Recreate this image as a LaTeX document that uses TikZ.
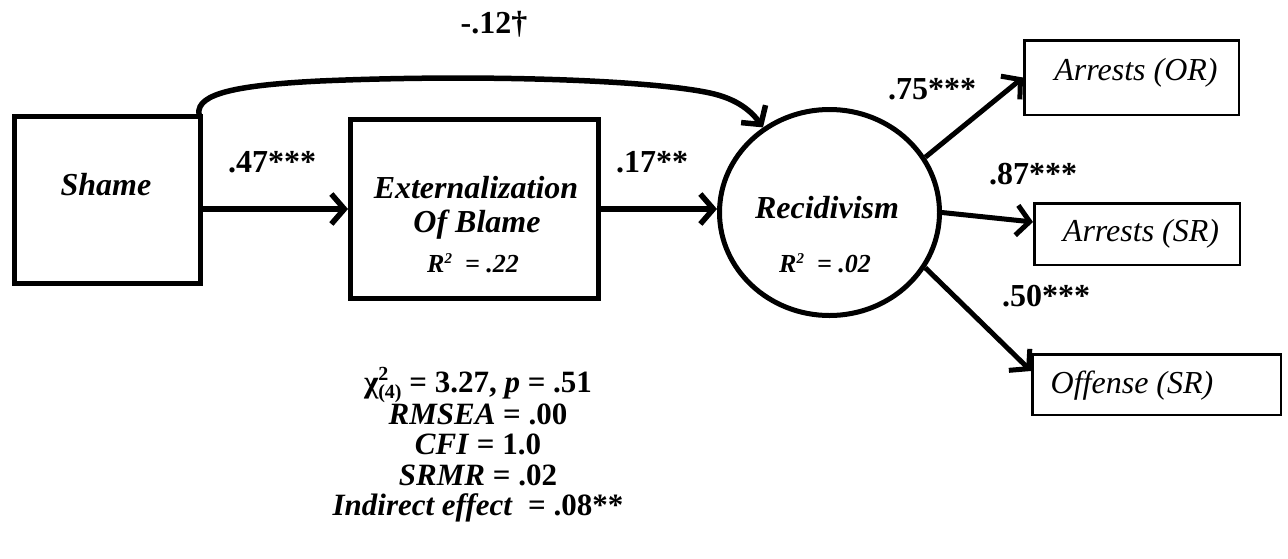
\documentclass[tikz,border=0pt]{standalone}
\usepackage{fontspec}
\setmainfont{Liberation Serif}
\usetikzlibrary{arrows.meta,shapes.geometric}
\tikzset{
  bigbox/.style={draw, line width=5pt, rectangle, inner sep=0pt},
  obsbox/.style={draw, line width=2.5pt, rectangle, inner sep=0pt},
  latent/.style={draw, line width=5pt, ellipse, inner sep=0pt},
  arr/.style={line width=5.5pt, -{Straight Barb[length=13pt,width=30pt]}},
  arrthin/.style={line width=5pt, -{Straight Barb[length=13pt,width=30pt]}},
  nametxt/.style={font=\fontsize{32}{34}\selectfont\bfseries\itshape, inner sep=0pt},
  rtxt/.style={font=\fontsize{26}{28}\selectfont\bfseries\itshape, inner sep=0pt},
  coef/.style={font=\fontsize{32}{34}\selectfont\bfseries, inner sep=0pt},
  obstxt/.style={font=\fontsize{32}{34}\selectfont\itshape, inner sep=0pt},
}
\newcommand{\Rsq}{R\raisebox{0.8ex}{\fontsize{15}{15}\selectfont 2}\ \ = }
\begin{document}
\begin{tikzpicture}[x=1pt,y=-1pt]
\useasboundingbox (0,0) rectangle (1288,558);

% main nodes
\node[bigbox, minimum width=186pt, minimum height=167pt] (shame) at (107.5,200) {};
\node[nametxt] (shamet) at (106,185) {Shame};

\node[bigbox, minimum width=248pt, minimum height=179pt] (ext) at (474.5,209) {};
\node[nametxt] (extt1) at (476,188) {Externalization};
\node[nametxt] (extt2) at (477,225) {Of Blame};
\node[rtxt] (extt3) at (473,263) {\Rsq.22};

\node[latent, minimum width=220pt, minimum height=206pt] (recid) at (829.5,212.5) {};
\node[nametxt] (recidt) at (827,208) {Recidivism};
\node[rtxt] (recidr) at (825,263) {\Rsq.02};

% observed indicators
\node[obsbox, minimum width=214.5pt, minimum height=74.5pt] (aor) at (1131.5,77.5) {};
\node[obstxt] (aort) at (1136,73) {Arrests (OR)};
\node[obsbox, minimum width=205.5pt, minimum height=61.5pt] (asr) at (1137,234) {};
\node[obstxt] (asrt) at (1141,234) {Arrests (SR)};
\node[obsbox, minimum width=248.5pt, minimum height=60.5pt] (osr) at (1156.5,384.5) {};
\node[obstxt] (osrt) at (1132,386) {Offense (SR)};

% connectors
\draw[arr] (shame.east |- ext.west) -- (ext.west);
\draw[arr] (ext.east) -- (ext.east -| recid.west);
\draw[arr] ([xshift=-4pt]shame.north east) .. controls (196,93) and (240,85) .. (320,81)
   .. controls (480,74) and (650,80) .. (710,93)
   .. controls (738,99) and (752,112) .. (recid.128);
\draw[arrthin] (recid.30) -- (aor.west);
\draw[arrthin] (recid.0) -- ([yshift=12pt]asr.west);
\draw[arrthin] (recid.-30) -- ([yshift=-18pt]osr.north west);

% coefficients
\node[coef] (c12) at (494,24) {-.12†};
\node[coef] (c47) at (272,162) {.47***};
\node[coef] (c17) at (652,162) {.17**};
\node[coef] (c75) at (932,89) {.75***};
\node[coef] (c87) at (1033,174) {.87***};
\node[coef] (c50) at (1046,296) {.50***};

% fit statistics
\node[font=\fontsize{31}{30.5}\selectfont\bfseries, align=center, inner sep=0pt] (fit) at (478,445)
 {χ\rlap{\raisebox{0.85ex}{\fontsize{20}{20}\selectfont 2}}\raisebox{-0.4ex}{\fontsize{20}{20}\selectfont (4)} = 3.27, \textit{p} = .51\\
  \textit{RMSEA} = .00\\
  \textit{CFI} = 1.0\\
  \textit{SRMR} = .02\\
  \textit{Indirect effect}\ \ = .08**};
\end{tikzpicture}
\end{document}
